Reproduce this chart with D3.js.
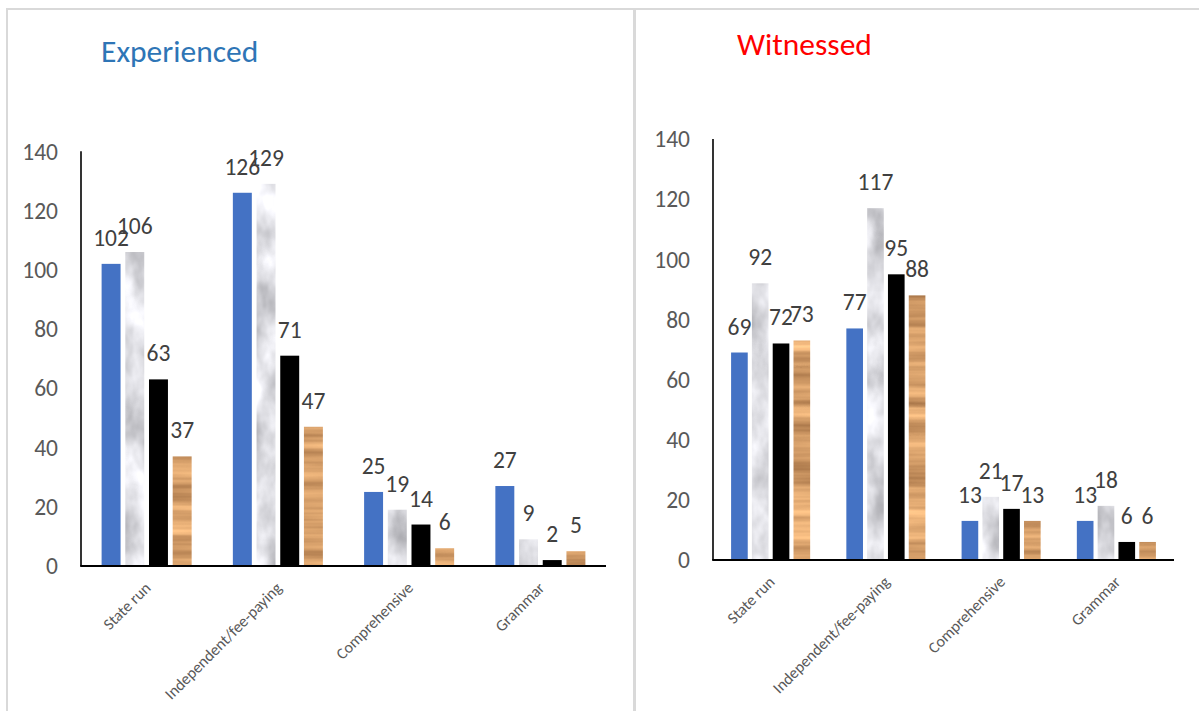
<!DOCTYPE html>
<html>
<head>
<meta charset="utf-8">
<script src="https://cdn.jsdelivr.net/npm/d3@7"></script>
<style>
  html, body { margin: 0; padding: 0; background: #fff; }
  svg { display: block; }
</style>
</head>
<body>
<svg id="chart" width="1199" height="711"></svg>
<script>
// ---------- data ----------
const categories = ["State run", "Independent/fee-paying", "Comprehensive", "Grammar"];
const seriesNames = ["Series 1", "Series 2", "Series 3", "Series 4"];
const yTicks = [0, 20, 40, 60, 80, 100, 120, 140];

const experiencedBlue   = [102, 126, 25, 27];
const experiencedMarble = [106, 129, 19, 9];
const experiencedBlack  = [63, 71, 14, 2];
const experiencedWood   = [37, 47, 6, 5];

const witnessedBlue   = [69, 77, 13, 13];
const witnessedMarble = [92, 117, 21, 18];
const witnessedBlack  = [72, 95, 17, 6];
const witnessedWood   = [73, 88, 13, 6];

// ---------- drawing ----------
const FONT = "Carlito, Lato, 'Open Sans', sans-serif";
const svg = d3.select("#chart");
const defs = svg.append("defs");

// marble texture filter
const marble = defs.append("filter").attr("id", "marble")
  .attr("x", 0).attr("y", 0).attr("width", 1).attr("height", 1)
  .attr("color-interpolation-filters", "sRGB");
marble.append("feTurbulence").attr("type", "fractalNoise")
  .attr("baseFrequency", "0.03 0.018").attr("numOctaves", 4).attr("seed", 7).attr("result", "noise");
marble.append("feColorMatrix").attr("in", "noise").attr("type", "matrix")
  .attr("values", "0.6 0 0 0 0.58  0.6 0 0 0 0.58  0.6 0 0 0 0.6  0 0 0 0 1")
  .attr("result", "col");
marble.append("feComposite").attr("in", "col").attr("in2", "SourceGraphic").attr("operator", "in");

// wood texture filter
const wood = defs.append("filter").attr("id", "wood")
  .attr("x", 0).attr("y", 0).attr("width", 1).attr("height", 1)
  .attr("color-interpolation-filters", "sRGB");
wood.append("feTurbulence").attr("type", "fractalNoise")
  .attr("baseFrequency", "0.003 0.1").attr("numOctaves", 3).attr("seed", 3).attr("result", "noise");
wood.append("feColorMatrix").attr("in", "noise").attr("type", "matrix")
  .attr("values", "0.55 0 0 0 0.57  0.5 0 0 0 0.38  0.4 0 0 0 0.22  0 0 0 0 1")
  .attr("result", "col");
wood.append("feComposite").attr("in", "col").attr("in2", "SourceGraphic").attr("operator", "in");

const fills = ["#4472C4", "#dcdcde", "#000000", "#c98a55"];
const filters = [null, "url(#marble)", null, "url(#wood)"];

// panel frame lines
svg.append("line").attr("x1", 6).attr("x2", 1199).attr("y1", 9).attr("y2", 9)
  .attr("stroke", "#d9d9d9").attr("stroke-width", 2);
svg.append("line").attr("x1", 7).attr("x2", 7).attr("y1", 9).attr("y2", 711)
  .attr("stroke", "#d9d9d9").attr("stroke-width", 2);
svg.append("line").attr("x1", 634.5).attr("x2", 634.5).attr("y1", 9).attr("y2", 711)
  .attr("stroke", "#d9d9d9").attr("stroke-width", 3);

function drawChart(cfg, seriesData) {
  const g = svg.append("g");
  const y = d3.scaleLinear().domain([0, 140]).range([cfg.y0, cfg.y140]);
  const x0 = d3.scaleBand().domain(categories).range([cfg.xL, cfg.xR]).padding(0);
  const groupW = x0.bandwidth() * 0.686;
  const x1 = d3.scaleBand().domain(seriesNames).range([0, groupW])
    .paddingInner(0.2).paddingOuter(0);

  // title
  g.append("text").attr("x", cfg.titleX).attr("y", cfg.titleY)
    .attr("font-family", FONT).attr("font-size", cfg.titleSize)
    .attr("fill", cfg.titleColor).text(cfg.title);

  // y tick labels
  g.selectAll(".ytick").data(yTicks).enter().append("text")
    .attr("x", cfg.xL - 23).attr("y", d => y(d)).attr("dy", "0.35em")
    .attr("text-anchor", "end").attr("font-family", FONT).attr("font-size", 23.5)
    .attr("fill", "#595959").text(d => d);

  // bars
  seriesData.forEach((vals, si) => {
    g.selectAll(".bar" + si).data(vals).enter().append("rect")
      .attr("x", (d, i) => x0(categories[i]) + (x0.bandwidth() - groupW) / 2 + x1(seriesNames[si]))
      .attr("y", d => y(d))
      .attr("width", x1.bandwidth())
      .attr("height", d => y(0) - y(d))
      .attr("fill", fills[si])
      .attr("filter", filters[si]);
    g.selectAll(".lab" + si).data(vals).enter().append("text")
      .attr("x", (d, i) => x0(categories[i]) + (x0.bandwidth() - groupW) / 2 + x1(seriesNames[si]) + x1.bandwidth() / 2)
      .attr("y", d => y(d) - 18)
      .attr("text-anchor", "middle").attr("font-family", FONT).attr("font-size", 23.5)
      .attr("fill", "#404040").text(d => d);
  });

  // axes lines
  g.append("line").attr("x1", cfg.xL).attr("x2", cfg.xL).attr("y1", y(140)).attr("y2", y(0))
    .attr("stroke", "#000").attr("stroke-width", 1.6);
  g.append("line").attr("x1", cfg.xL - 0.8).attr("x2", cfg.xR).attr("y1", y(0)).attr("y2", y(0))
    .attr("stroke", "#000").attr("stroke-width", 2);

  // category labels
  g.selectAll(".cat").data(categories).enter().append("text")
    .attr("transform", d => `translate(${x0(d) + x0.bandwidth() / 2 + 1},${y(0) + 19}) rotate(-45)`)
    .attr("text-anchor", "end").attr("dy", "0.35em")
    .attr("font-family", FONT).attr("font-size", 16)
    .attr("fill", "#595959").text(d => d);
}

drawChart({
  title: "Experienced", titleColor: "#2E75B6", titleX: 101, titleY: 62, titleSize: 31.5,
  xL: 81, xR: 606, y0: 566, y140: 151.3
}, [experiencedBlue, experiencedMarble, experiencedBlack, experiencedWood]);

drawChart({
  title: "Witnessed", titleColor: "#FF0000", titleX: 737, titleY: 55, titleSize: 31.5,
  xL: 713, xR: 1174, y0: 560, y140: 139
}, [witnessedBlue, witnessedMarble, witnessedBlack, witnessedWood]);
</script>
</body>
</html>
